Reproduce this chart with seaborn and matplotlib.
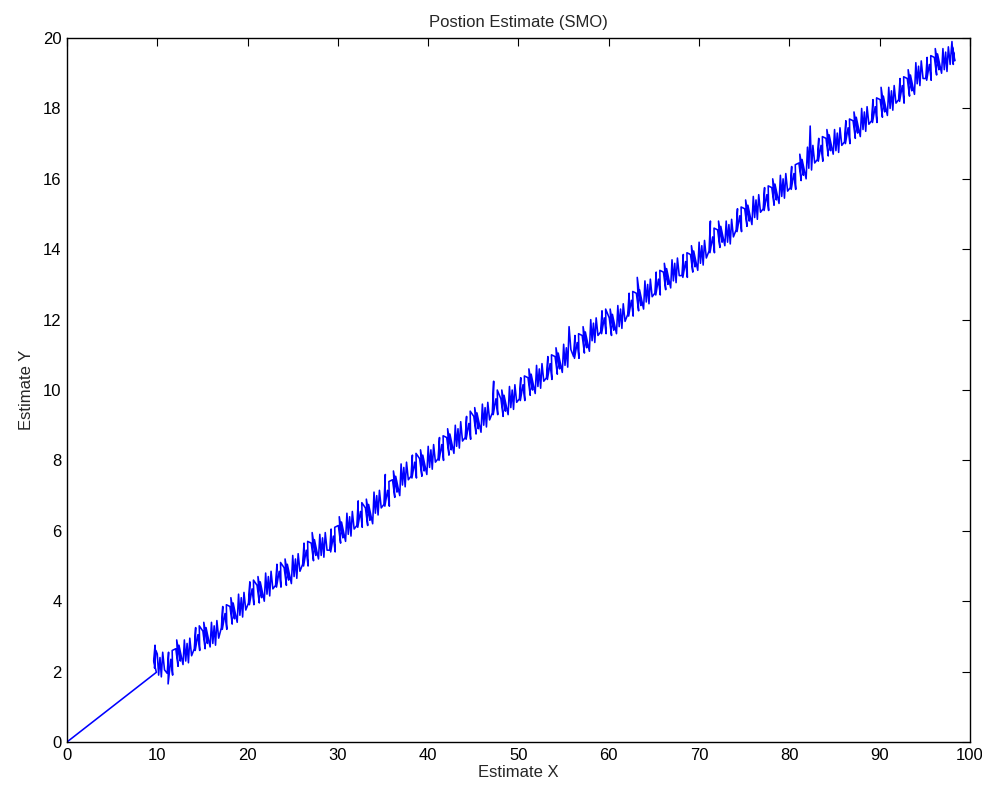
import matplotlib
matplotlib.use("Agg")
import matplotlib.pyplot as plt
import seaborn as sns
import pandas as pd

# SMO position estimates: the track leaves the origin, then wanders along the band
est_x = [
    0.0, 9.9, 9.6, 9.75, 9.7, 9.85,
    10.0, 10.15, 10.3, 10.45, 10.6, 10.8,
    11.1, 11.25, 11.2, 11.5, 11.7, 11.65,
    12.05, 12.3, 12.15, 12.55, 12.4, 12.85,
    13.0, 13.15, 13.3, 13.45, 13.6, 13.8,
    14.1, 14.25, 14.2, 14.5, 14.7, 14.65,
    15.05, 15.3, 15.15, 15.55, 15.4, 15.85,
    16.0, 16.15, 16.3, 16.45, 16.6, 16.8,
    17.1, 17.25, 17.2, 17.5, 17.7, 17.65,
    18.05, 18.3, 18.15, 18.55, 18.4, 18.85,
    19.0, 19.15, 19.3, 19.45, 19.6, 19.8,
    20.1, 20.25, 20.2, 20.5, 20.7, 20.65,
    21.05, 21.3, 21.15, 21.55, 21.4, 21.85,
    22.0, 22.15, 22.3, 22.45, 22.6, 22.8,
    23.1, 23.25, 23.2, 23.5, 23.7, 23.65,
    24.05, 24.3, 24.15, 24.55, 24.4, 24.85,
    25.0, 25.15, 25.3, 25.45, 25.6, 25.8,
    26.1, 26.25, 26.2, 26.5, 26.7, 26.65,
    27.05, 27.3, 27.15, 27.55, 27.4, 27.85,
    28.0, 28.15, 28.3, 28.45, 28.6, 28.8,
    29.1, 29.25, 29.2, 29.5, 29.7, 29.65,
    30.05, 30.3, 30.15, 30.55, 30.4, 30.85,
    31.0, 31.15, 31.3, 31.45, 31.6, 31.8,
    32.1, 32.25, 32.2, 32.5, 32.7, 32.65,
    33.05, 33.3, 33.15, 33.55, 33.4, 33.85,
    34.0, 34.15, 34.3, 34.45, 34.6, 34.8,
    35.1, 35.25, 35.2, 35.5, 35.7, 35.65,
    36.05, 36.3, 36.15, 36.55, 36.4, 36.85,
    37.0, 37.15, 37.3, 37.45, 37.6, 37.8,
    38.1, 38.25, 38.2, 38.5, 38.7, 38.65,
    39.05, 39.3, 39.15, 39.55, 39.4, 39.85,
    40.0, 40.15, 40.3, 40.45, 40.6, 40.8,
    41.1, 41.25, 41.2, 41.5, 41.7, 41.65,
    42.05, 42.3, 42.15, 42.55, 42.4, 42.85,
    43.0, 43.15, 43.3, 43.45, 43.6, 43.8,
    44.1, 44.25, 44.2, 44.5, 44.7, 44.65,
    45.05, 45.3, 45.15, 45.55, 45.4, 45.85,
    46.0, 46.15, 46.3, 46.45, 46.6, 46.8,
    47.1, 47.25, 47.2, 47.5, 47.7, 47.65,
    48.05, 48.3, 48.15, 48.55, 48.4, 48.85,
    49.0, 49.15, 49.3, 49.45, 49.6, 49.8,
    50.1, 50.25, 50.2, 50.5, 50.7, 50.65,
    51.05, 51.3, 51.15, 51.55, 51.4, 51.85,
    52.0, 52.15, 52.3, 52.45, 52.6, 52.8,
    53.1, 53.25, 53.2, 53.5, 53.7, 53.65,
    54.05, 54.3, 54.15, 54.55, 54.4, 54.85,
    55.0, 55.15, 55.3, 55.45, 55.6, 55.8,
    56.1, 56.25, 56.2, 56.5, 56.7, 56.65,
    57.05, 57.3, 57.15, 57.55, 57.4, 57.85,
    58.0, 58.15, 58.3, 58.45, 58.6, 58.8,
    59.1, 59.25, 59.2, 59.5, 59.7, 59.65,
    60.05, 60.3, 60.15, 60.55, 60.4, 60.85,
    61.0, 61.15, 61.3, 61.45, 61.6, 61.8,
    62.1, 62.25, 62.2, 62.5, 62.7, 62.65,
    63.05, 63.3, 63.15, 63.55, 63.4, 63.85,
    64.0, 64.15, 64.3, 64.45, 64.6, 64.8,
    65.1, 65.25, 65.2, 65.5, 65.7, 65.65,
    66.05, 66.3, 66.15, 66.55, 66.4, 66.85,
    67.0, 67.15, 67.3, 67.45, 67.6, 67.8,
    68.1, 68.25, 68.2, 68.5, 68.7, 68.65,
    69.05, 69.3, 69.15, 69.55, 69.4, 69.85,
    70.0, 70.15, 70.3, 70.45, 70.6, 70.8,
    71.1, 71.25, 71.2, 71.5, 71.7, 71.65,
    72.05, 72.3, 72.15, 72.55, 72.4, 72.85,
    73.0, 73.15, 73.3, 73.45, 73.6, 73.8,
    74.1, 74.25, 74.2, 74.5, 74.7, 74.65,
    75.05, 75.3, 75.15, 75.55, 75.4, 75.85,
    76.0, 76.15, 76.3, 76.45, 76.6, 76.8,
    77.1, 77.25, 77.2, 77.5, 77.7, 77.65,
    78.05, 78.3, 78.15, 78.55, 78.4, 78.85,
    79.0, 79.15, 79.3, 79.45, 79.6, 79.8,
    80.1, 80.25, 80.2, 80.5, 80.7, 80.65,
    81.05, 81.3, 81.15, 81.55, 81.4, 81.85,
    82.0, 82.15, 82.3, 82.45, 82.6, 82.8,
    83.1, 83.25, 83.2, 83.5, 83.7, 83.65,
    84.05, 84.3, 84.15, 84.55, 84.4, 84.85,
    85.0, 85.15, 85.3, 85.45, 85.6, 85.8,
    86.1, 86.25, 86.2, 86.5, 86.7, 86.65,
    87.05, 87.3, 87.15, 87.55, 87.4, 87.85,
    88.0, 88.15, 88.3, 88.45, 88.6, 88.8,
    89.1, 89.25, 89.2, 89.5, 89.7, 89.65,
    90.05, 90.3, 90.15, 90.55, 90.4, 90.85,
    91.0, 91.15, 91.3, 91.45, 91.6, 91.8,
    92.1, 92.25, 92.2, 92.5, 92.7, 92.65,
    93.05, 93.3, 93.15, 93.55, 93.4, 93.85,
    94.0, 94.15, 94.3, 94.45, 94.6, 94.8,
    95.1, 95.25, 95.2, 95.5, 95.7, 95.65,
    96.05, 96.3, 96.15, 96.55, 96.4, 96.85,
    97.0, 97.15, 97.3, 97.45, 97.6, 97.8,
    98.0, 98.15, 98.05, 98.3, 98.2,
]

est_y = [
    0.0, 1.98, 2.3, 2.75, 2.1, 2.6,
    2.5, 1.9, 2.4, 1.85, 2.55, 2.05,
    1.95, 2.55, 1.65, 2.35, 1.9, 2.6,
    2.65, 2.15, 2.9, 2.3, 2.75, 2.2,
    2.9, 2.3, 2.8, 2.25, 2.95, 2.45,
    2.65, 3.25, 2.6, 3.05, 2.6, 3.3,
    3.15, 2.65, 3.4, 2.8, 3.25, 2.7,
    3.4, 2.8, 3.3, 2.75, 3.45, 2.95,
    3.25, 3.85, 3.2, 3.65, 3.2, 3.9,
    3.85, 3.35, 4.1, 3.5, 3.95, 3.4,
    4.2, 3.6, 4.1, 3.55, 4.25, 3.75,
    3.95, 4.55, 3.9, 4.35, 3.9, 4.6,
    4.45, 3.95, 4.7, 4.1, 4.55, 4.0,
    4.8, 4.2, 4.7, 4.15, 4.85, 4.35,
    4.45, 5.05, 4.4, 4.85, 4.4, 5.1,
    4.95, 4.45, 5.2, 4.6, 5.05, 4.5,
    5.3, 4.7, 5.2, 4.65, 5.35, 4.85,
    5.05, 5.65, 5.0, 5.45, 5.0, 5.7,
    5.65, 5.15, 5.95, 5.3, 5.75, 5.2,
    5.9, 5.3, 5.8, 5.25, 5.95, 5.45,
    5.45, 6.05, 5.4, 5.85, 5.4, 6.1,
    6.15, 5.65, 6.4, 5.8, 6.25, 5.7,
    6.5, 5.9, 6.4, 5.85, 6.55, 6.05,
    6.15, 6.85, 6.1, 6.55, 6.1, 6.8,
    6.65, 6.15, 6.9, 6.3, 6.75, 6.2,
    7.1, 6.5, 7.0, 6.45, 7.15, 6.65,
    6.75, 7.6, 6.7, 7.15, 6.7, 7.4,
    7.45, 6.95, 7.7, 7.1, 7.55, 7.0,
    7.9, 7.3, 7.8, 7.25, 7.95, 7.45,
    7.55, 8.15, 7.5, 7.95, 7.5, 8.2,
    8.05, 7.55, 8.3, 7.7, 8.15, 7.6,
    8.4, 7.8, 8.3, 7.75, 8.45, 7.95,
    8.05, 8.65, 8.0, 8.45, 8.0, 8.7,
    8.65, 8.15, 8.9, 8.3, 8.75, 8.2,
    9.0, 8.4, 8.9, 8.35, 9.1, 8.55,
    8.65, 9.25, 8.6, 9.05, 8.6, 9.4,
    9.25, 8.75, 9.5, 8.9, 9.35, 8.8,
    9.6, 9.0, 9.5, 8.95, 9.65, 9.15,
    9.35, 10.25, 9.3, 9.75, 9.3, 10.0,
    9.75, 9.25, 10.0, 9.4, 9.85, 9.3,
    10.1, 9.5, 10.0, 9.45, 10.15, 9.65,
    9.75, 10.35, 9.7, 10.15, 9.7, 10.4,
    10.35, 9.85, 10.6, 10.0, 10.45, 9.9,
    10.7, 10.1, 10.6, 10.05, 10.75, 10.25,
    10.35, 10.95, 10.3, 10.75, 10.3, 11.0,
    10.95, 10.45, 11.2, 10.6, 11.05, 10.5,
    11.3, 10.7, 11.2, 10.65, 11.8, 11.15,
    10.95, 11.55, 10.9, 11.35, 10.9, 11.6,
    11.55, 11.05, 11.8, 11.2, 11.65, 11.1,
    12.0, 11.4, 11.9, 11.35, 12.05, 11.55,
    11.65, 12.25, 11.6, 12.05, 11.6, 12.3,
    12.05, 11.55, 12.3, 11.7, 12.15, 11.6,
    12.4, 11.8, 12.3, 11.75, 12.45, 11.95,
    12.15, 12.75, 12.1, 12.55, 12.1, 12.8,
    12.75, 12.25, 13.2, 12.4, 12.85, 12.3,
    13.1, 12.5, 13.0, 12.45, 13.15, 12.65,
    12.75, 13.35, 12.7, 13.15, 12.7, 13.4,
    13.35, 12.85, 13.6, 13.0, 13.45, 12.9,
    13.7, 13.1, 13.6, 13.05, 13.75, 13.25,
    13.25, 13.85, 13.2, 13.65, 13.2, 13.9,
    13.85, 13.35, 14.1, 13.5, 13.95, 13.4,
    14.2, 13.6, 14.1, 13.55, 14.25, 13.75,
    13.95, 14.8, 13.9, 14.35, 13.9, 14.6,
    14.55, 14.05, 14.8, 14.2, 14.65, 14.1,
    14.8, 14.2, 14.7, 14.15, 14.85, 14.35,
    14.55, 15.15, 14.5, 14.95, 14.5, 15.2,
    15.15, 14.65, 15.4, 14.8, 15.25, 14.7,
    15.5, 14.9, 15.4, 14.85, 15.55, 15.05,
    15.15, 15.75, 15.1, 15.55, 15.1, 15.8,
    15.75, 15.25, 16.0, 15.4, 15.85, 15.3,
    16.1, 15.5, 16.0, 15.45, 16.15, 15.65,
    15.75, 16.35, 15.7, 16.15, 15.7, 16.4,
    16.45, 15.95, 16.7, 16.1, 16.55, 16.0,
    16.9, 16.3, 17.5, 16.25, 16.95, 16.45,
    16.55, 17.15, 16.5, 16.95, 16.5, 17.2,
    17.15, 16.65, 17.4, 16.8, 17.25, 16.7,
    17.4, 16.8, 17.3, 16.75, 17.45, 16.95,
    17.05, 17.65, 17.0, 17.45, 17.0, 17.7,
    17.65, 17.15, 17.9, 17.3, 17.75, 17.2,
    18.0, 17.4, 17.9, 17.35, 18.05, 17.55,
    17.65, 18.25, 17.6, 18.05, 17.6, 18.3,
    18.25, 17.75, 18.6, 17.9, 18.35, 17.8,
    18.6, 18.0, 18.5, 17.95, 18.65, 18.15,
    18.25, 18.85, 18.2, 18.65, 18.15, 18.9,
    18.85, 18.35, 19.1, 18.5, 18.95, 18.4,
    19.3, 18.7, 19.2, 18.65, 19.35, 18.85,
    18.85, 19.45, 18.8, 19.25, 18.8, 19.5,
    19.45, 18.95, 19.7, 19.1, 19.55, 19.0,
    19.7, 19.1, 19.6, 19.05, 19.75, 19.25,
    19.9, 19.25, 19.75, 19.35, 19.6,
]

x_ticks = [0, 10, 20, 30, 40, 50, 60, 70, 80, 90, 100]
y_ticks = [0, 2, 4, 6, 8, 10, 12, 14, 16, 18, 20]

track = pd.DataFrame({"x": est_x, "y": est_y})

sns.set_style("white")
plt.rcParams["font.family"] = ["Liberation Sans", "DejaVu Sans"]

fig = plt.figure(figsize=(9.82, 7.94), dpi=100)
ax = fig.add_axes([0.0682, 0.0655, 0.9196, 0.8866])

sns.lineplot(data=track, x="x", y="y", sort=False, estimator=None,
             color="#0000ff", linewidth=1.15, ax=ax)

ax.set_xlim(0, 100)
ax.set_ylim(0, 20)
ax.set_xticks(x_ticks)
ax.set_yticks(y_ticks)
ax.tick_params(direction="in", length=6, width=0.8, top=True, right=True,
               labelsize=12, colors="black", pad=4)
for side in ax.spines.values():
    side.set_visible(True)
    side.set_color("black")
    side.set_linewidth(1.0)

ax.set_xlabel("Estimate X", fontsize=12, labelpad=2)
ax.set_ylabel("Estimate Y", fontsize=12, labelpad=6)
ax.set_title("Postion Estimate (SMO)", fontsize=12, pad=8)

fig.savefig("out.png", dpi=100, facecolor="white")
